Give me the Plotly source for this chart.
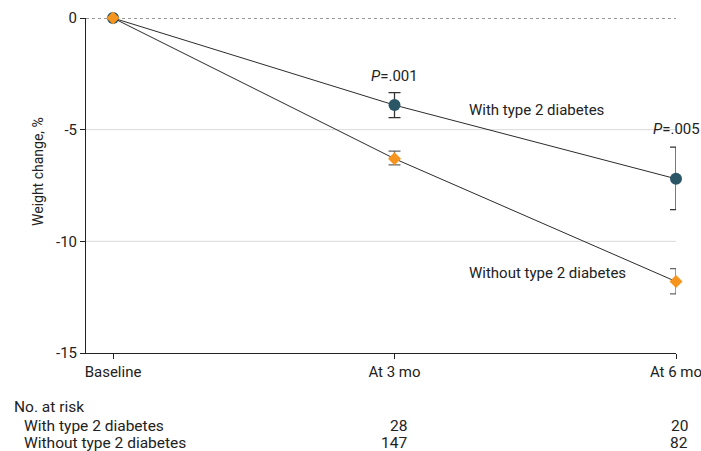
import plotly.graph_objects as go

# Data
timepoints = ["Baseline", "At 3 mo", "At 6 mo"]
x_pos = [0, 1, 2]
with_t2d = [0, -3.9, -7.2]
with_t2d_err_plus = [0, 0.56, 1.42]
with_t2d_err_minus = [0, 0.56, 1.38]
without_t2d = [0, -6.3, -11.8]
without_t2d_err_plus = [0, 0.34, 0.58]
without_t2d_err_minus = [0, 0.28, 0.55]
p_labels = ["<i>P</i>=.001", "<i>P</i>=.005"]
risk_with = ["", "28", "20"]
risk_without = ["", "147", "82"]
y_ticks = [0, -5, -10, -15]
y_tick_text = ["0", "-5", "-10", "-15"]
grid_vals = [-5, -10]

FONT = "Roboto, Arial, sans-serif"
FS = 15
FS_TABLE = 15.5
TXT = "#222222"
W, H = 701, 451
L, R, T, B = 86, 25, 18, 98
PH = H - T - B

def py(px):
    # pixel y (from top of figure) to paper y
    return (H - B - px) / PH

def pxx(px):
    return (px - L) / (W - L - R)

fig = go.Figure()

fig.add_trace(go.Scatter(
    x=x_pos, y=with_t2d, mode="lines+markers",
    line=dict(color="#2b2b2b", width=1),
    marker=dict(symbol="circle", size=12, color="#2b5666"),
    error_y=dict(type="data", symmetric=False, array=with_t2d_err_plus,
                 arrayminus=with_t2d_err_minus, color="#333333", thickness=1.3, width=6),
    cliponaxis=False, showlegend=False, name="With type 2 diabetes"))

fig.add_trace(go.Scatter(
    x=x_pos, y=without_t2d, mode="lines+markers",
    line=dict(color="#2b2b2b", width=1),
    marker=dict(symbol="diamond", size=10, color="#F7941D"),
    error_y=dict(type="data", symmetric=False, array=without_t2d_err_plus,
                 arrayminus=without_t2d_err_minus, color="#666666", thickness=1.3, width=6),
    cliponaxis=False, showlegend=False, name="Without type 2 diabetes"))

shapes = []
for g in grid_vals:
    shapes.append(dict(type="line", xref="paper", yref="y", x0=0, x1=1, y0=g, y1=g,
                       line=dict(color="#d9d9d9", width=1), layer="below"))
shapes.append(dict(type="line", xref="paper", yref="y", x0=0, x1=1, y0=0, y1=0,
                   line=dict(color="#333333", width=1, dash="dot"), layer="below"))

def txt(x, y, text, xref="paper", yref="paper", xanchor="left", xshift=0, yshift=0,
        size=FS, angle=0):
    return dict(x=x, y=y, xref=xref, yref=yref, text=text, showarrow=False,
                xanchor=xanchor, yanchor="middle", xshift=xshift, yshift=yshift,
                textangle=angle, font=dict(family=FONT, size=size, color=TXT))

annotations = []
# Y axis title
annotations.append(txt(pxx(38), py(172), "Weight change, %", xanchor="center", size=14, angle=-90))
# P values
annotations.append(txt(x_pos[1], py(76), p_labels[0], xref="x", xanchor="center"))
annotations.append(txt(x_pos[2], py(129), p_labels[1], xref="x", xanchor="center"))
annotations.append(txt(pxx(467), py(110), "With type 2 diabetes"))
annotations.append(txt(pxx(467), py(273), "Without type 2 diabetes"))
# At-risk table
ROW_Y = [407, 425.5, 443]
annotations.append(txt(pxx(12), py(ROW_Y[0]), "No. at risk", size=FS_TABLE))
annotations.append(txt(pxx(22), py(ROW_Y[1]), "With type 2 diabetes", size=FS_TABLE))
annotations.append(txt(pxx(22), py(ROW_Y[2]), "Without type 2 diabetes", size=FS_TABLE))
for i in range(len(x_pos)):
    if risk_with[i]:
        annotations.append(txt(x_pos[i], py(ROW_Y[1]), risk_with[i], xref="x",
                               xanchor="right", xshift=14, size=FS_TABLE))
    if risk_without[i]:
        annotations.append(txt(x_pos[i], py(ROW_Y[2]), risk_without[i], xref="x",
                               xanchor="right", xshift=14, size=FS_TABLE))

fig.update_layout(
    width=W, height=H,
    margin=dict(l=L, r=R, t=T, b=B, autoexpand=False),
    paper_bgcolor="white", plot_bgcolor="white",
    font=dict(family=FONT, size=FS, color=TXT),
    shapes=shapes, annotations=annotations,
    xaxis=dict(range=[-0.096, 2.0], tickvals=x_pos, ticktext=timepoints,
               showgrid=False, zeroline=False, showline=True, linecolor="#222222",
               linewidth=1, ticks="outside", ticklen=5, tickcolor="#222222",
               ticklabeloverflow="allow",
               tickfont=dict(family=FONT, size=FS, color=TXT)),
    yaxis=dict(range=[-15, 0], tickvals=y_ticks, ticktext=y_tick_text,
               showgrid=False, zeroline=False, showline=True, linecolor="#222222",
               linewidth=1, ticks="outside", ticklen=5, tickcolor="#222222",
               tickfont=dict(family=FONT, size=FS, color=TXT)),
)

fig.write_html("out.html", config={"displayModeBar": False},
               post_script="document.body.style.margin='0';")
